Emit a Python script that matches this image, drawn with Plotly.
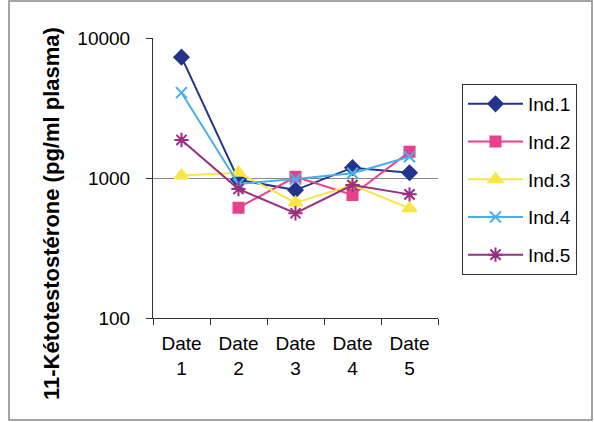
import plotly.graph_objects as go

dates = ["Date<br>1", "Date<br>2", "Date<br>3", "Date<br>4", "Date<br>5"]
names = ["Ind.1", "Ind.2", "Ind.3", "Ind.4", "Ind.5"]
ind1 = [7300, 970, 820, 1185, 1090]
ind2 = [None, 614, 1020, 756, 1540]
ind3 = [1040, 1090, 667, 891, 607]
ind4 = [4070, 906, 985, 1080, 1420]
ind5 = [1870, 834, 560, 891, 764]
series = [ind1, ind2, ind3, ind4, ind5]
y_ticks = [100, 1000, 10000]

colors = ["#24348C", "#E8408A", "#F8E646", "#4AAEEA", "#9A2E80"]
symbols = ["diamond", "square", "triangle-up", "x-thin-open", "asterisk-open"]
sizes = [11, 10, 12, 11, 12]

fig = go.Figure()
for i, (n, s) in enumerate(zip(names, series)):
    fig.add_trace(go.Scatter(
        x=dates, y=s, name=n, mode="lines+markers", legendgroup=n,
        line=dict(color=colors[i], width=2),
        marker=dict(symbol=symbols[i], size=sizes[i], color=colors[i],
                    line=dict(color=colors[i], width=2)),
    ))

W, H = 594, 422
L, R, T, B = 153, 156, 38, 104
pw, ph = W - L - R, H - T - B

fig.update_layout(
    width=W, height=H,
    margin=dict(l=L, r=R, t=T, b=B),
    paper_bgcolor="white", plot_bgcolor="white",
    font=dict(family="Arial, Liberation Sans, sans-serif", size=19, color="black"),
    showlegend=True,
    legend=dict(
        x=(462 - L) / pw, xanchor="left",
        y=(H - B - 84) / ph, yanchor="top",
        bordercolor="#333", borderwidth=1,
        font=dict(size=19), tracegroupgap=10, traceorder="grouped",
        itemwidth=55,
    ),
    xaxis=dict(
        type="category", range=[-0.5, 4.5], tickson="boundaries",
        ticks="outside", ticklen=6, tickcolor="#333",
        showline=True, linecolor="#333", linewidth=1,
        showgrid=False, ticklabelstandoff=8,
    ),
    yaxis=dict(
        type="log", range=[2, 4], tickvals=y_ticks,
        ticktext=[str(v) for v in y_ticks],
        ticks="outside", ticklen=6, tickcolor="#333",
        showline=True, linecolor="#333", linewidth=1,
        showgrid=True, gridcolor="#888", gridwidth=1,
        ticklabelstandoff=12, zeroline=False,
    ),
    annotations=[dict(
        text="<b>11-Kétotestostérone (pg/ml plasma)</b>",
        xref="paper", yref="paper",
        x=(51 - L) / pw, y=(H - B - 214) / ph,
        xanchor="center", yanchor="middle",
        textangle=-90, showarrow=False, font=dict(size=22),
    )],
    shapes=[dict(
        type="rect", xref="paper", yref="paper",
        x0=(9 - L) / pw, x1=(592 - L) / pw,
        y0=(H - B - 420) / ph, y1=(H - B - 1) / ph,
        line=dict(color="#888", width=1.5),
    )],
)

fig.write_html("out.html", config={"displayModeBar": False},
               post_script="document.body.style.margin='0';")
